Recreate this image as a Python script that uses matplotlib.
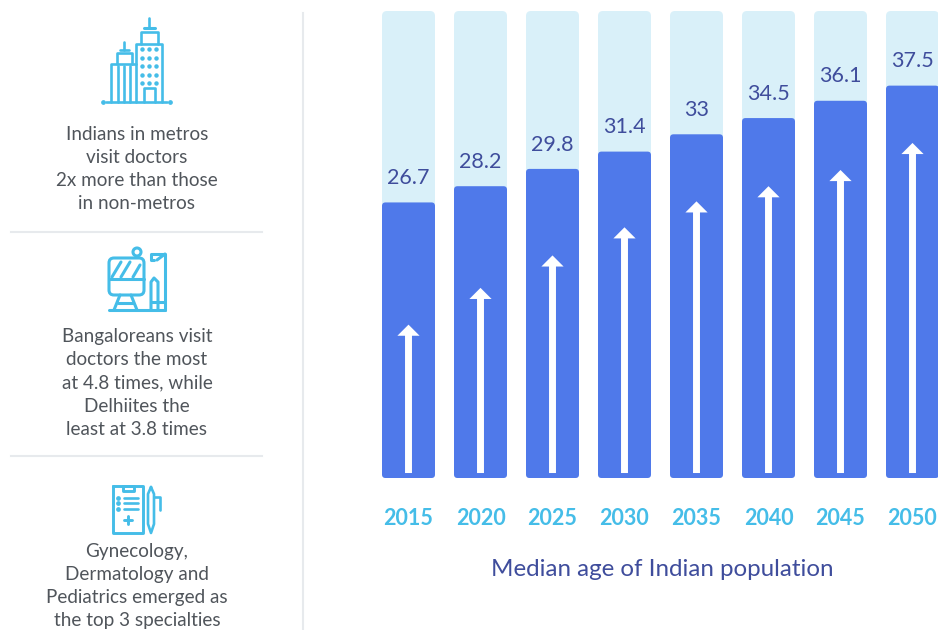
import matplotlib
matplotlib.use('Agg')
import matplotlib.pyplot as plt
from matplotlib.patches import FancyBboxPatch, Circle

plt.rcParams['font.family'] = ['Lato', 'DejaVu Sans']

# median age by year
years = ['2015', '2020', '2025', '2030', '2035', '2040', '2045', '2050']
median_age = [26.7, 28.2, 29.8, 31.4, 33, 34.5, 36.1, 37.5]
age_labels = ['26.7', '28.2', '29.8', '31.4', '33', '34.5', '36.1', '37.5']
arrow_tips = [15.4, 18.8, 21.8, 24.4, 26.8, 28.2, 29.7, 32.2]

notes = [
    'Indians in metros\nvisit doctors\n2x more than those\nin non-metros',
    'Bangaloreans visit\ndoctors the most\nat 4.8 times, while\nDelhiites the\nleast at 3.8 times',
    'Gynecology,\nDermatology and\nPediatrics emerged as\nthe top 3 specialties',
]
caption = 'Median age of Indian population'

DARK = '#4f79ea'
PALE = '#d9f0f9'
NAVY = '#3f4d9c'
SKY = '#45bde8'
GREY = '#50555b'
RULE = '#e7eaed'

W, H = 938, 630
fig = plt.figure(figsize=(W / 100, H / 100), dpi=100, facecolor='white')

# page layer in pixel coordinates, for the side panel
page = fig.add_axes([0, 0, 1, 1])
page.set_xlim(0, W)
page.set_ylim(H, 0)
page.axis('off')


def line(xs, ys, lw=1.9):
    page.plot(xs, ys, color=SKY, lw=lw, solid_capstyle='round', solid_joinstyle='round')


def box(x0, y0, x1, y1, lw=1.9):
    line([x0, x1, x1, x0, x0], [y0, y0, y1, y1, y0], lw)


# separators
page.plot([303, 303], [13, 630], color=RULE, lw=1.5)
page.plot([11, 262], [232, 232], color=RULE, lw=1.5)
page.plot([11, 262], [456, 456], color=RULE, lw=1.5)

# side notes
for note, y in zip(notes, [169, 383, 586]):
    page.text(137, y, note, ha='center', va='center', fontsize=13.6, color=GREY,
              linespacing=1.44)

# buildings icon
line([106, 167], [102, 102])
page.plot([103, 170], [102, 102], 'o', color=SKY, ms=2.4)
line([136, 136, 162, 162], [102, 44, 44, 102])
line([141, 141, 158, 158], [44, 32, 32, 44])
line([144, 155], [28, 28], 2.2)
line([149, 149], [18, 28])
line([144, 144, 155, 155], [102, 88, 88, 102])
for wy in [49, 58, 66, 75, 83]:
    page.plot([142, 149, 156], [wy, wy, wy], 'o', color=SKY, ms=2.2)
line([111, 111, 136], [102, 64, 64])
for vx in [118, 124, 130]:
    line([vx, vx], [66, 102])
line([117, 117, 132, 132], [64, 53, 53, 64])
line([120, 129], [50, 50])
line([124, 124], [42, 50])

# computer icon
page.add_patch(FancyBboxPatch((109, 258), 35, 37, boxstyle='round,pad=0,rounding_size=5',
                              fc='none', ec=SKY, lw=2.2))
line([109, 144], [279, 279], 2.2)
line([112, 121], [277, 262], 2.2)
line([121, 130], [277, 262], 2.2)
line([133, 140], [277, 265], 2.2)
page.add_patch(Circle((137, 252), 4, fc='white', ec=SKY, lw=2.2, zorder=3))
line([120, 114], [295, 310], 2.2)
line([131, 137], [295, 310], 2.2)
line([118, 133], [303, 303], 2.2)
line([109, 165], [310, 310], 2.2)
line([165, 165, 151, 151, 154], [310, 254, 254, 260, 260], 2.2)
line([165, 157], [254, 260], 2.2)
line([151, 151, 154, 158, 158], [310, 282, 278, 282, 310], 2.2)
line([151, 165], [302, 302], 2.2)

# clipboard icon
box(113, 486, 143, 533, 2.1)
box(123, 486, 134, 491, 2.1)
for ly in [498, 503, 509]:
    line([124, 138], [ly, ly], 1.9)
    page.plot([118], [ly], 'o', color=SKY, ms=2.4)
line([128, 128], [516, 524], 2.1)
line([124, 132], [520, 520], 2.1)
line([151, 148, 148, 151, 154, 154, 151], [487, 494, 524, 533, 524, 494, 487], 1.9)
line([154, 160, 160], [497, 497, 510], 1.9)

page.text(662, 570, caption, ha='center', va='center', fontsize=17.4, color=NAVY)

# chart layer: bars sit 72 px apart, value axis runs about 10.81 px per year of age
ax = fig.add_axes([346 / W, (H - 478) / H, (W - 346) / W, 467 / H])
ax.set_xlim((346 - 408.5) / 72, (W - 408.5) / 72)
y_floor = 1.22
y_top = 44.4
ax.set_ylim(y_floor, y_top)
ax.patch.set_alpha(0)
for s in ax.spines.values():
    s.set_visible(False)

bar_w = 53 / 72
radius = 5 / 72
aspect = 72 / (467 / (y_top - y_floor))


def rounded_bar(i, top, color, r=radius):
    ax.add_patch(FancyBboxPatch((i - bar_w / 2, y_floor), bar_w, top - y_floor,
                                boxstyle=f'round,pad=0,rounding_size={r}',
                                mutation_aspect=aspect, fc=color, ec='none'))


for i, (age, lab, tip) in enumerate(zip(median_age, age_labels, arrow_tips)):
    rounded_bar(i, y_top, PALE)
    rounded_bar(i, age, DARK, radius * 0.7)
    ax.annotate('', xy=(i, tip), xytext=(i, y_floor + 0.46),
                arrowprops=dict(width=5, headwidth=16, headlength=8, fc='white', ec='none'))
    ax.annotate(lab, xy=(i, age), xytext=(0, 17.5), textcoords='offset points',
                ha='center', va='center', fontsize=15.5, color=NAVY)

ax.set_xticks(range(len(years)))
ax.set_xticklabels(years, fontsize=15.5, color=SKY, fontweight='bold')
ax.set_yticks([])
ax.tick_params(axis='x', length=0, pad=21.5)

fig.savefig('out.png', dpi=100)
